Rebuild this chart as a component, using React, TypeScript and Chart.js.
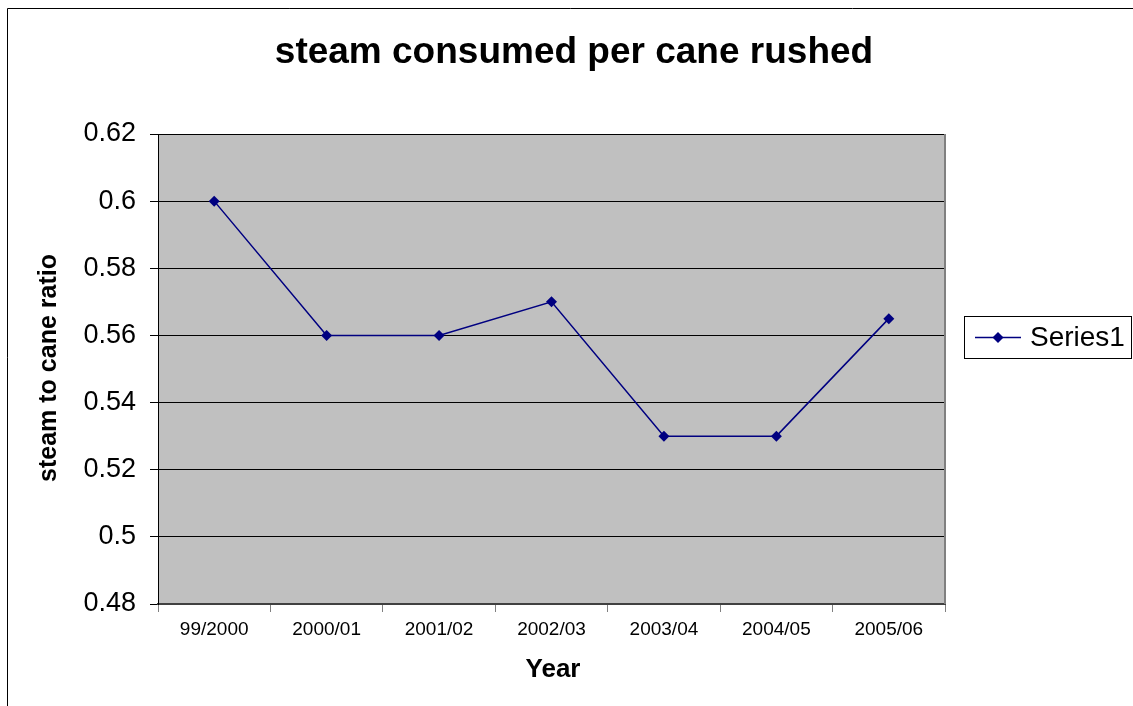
import React, { useEffect, useRef } from "react";
import { Chart, registerables } from "chart.js";

Chart.register(...registerables);

const categories = ["99/2000", "2000/01", "2001/02", "2002/03", "2003/04", "2004/05", "2005/06"];
const seriesValues = [0.6, 0.56, 0.56, 0.57, 0.53, 0.53, 0.565];
const seriesName = "Series1";
const chartTitle = "steam consumed per cane rushed";
const yAxisTitle = "steam to cane ratio";
const xAxisTitle = "Year";
const yMin = 0.48;
const yMax = 0.62;
const yStep = 0.02;

const FONT = "'Liberation Sans', Arial, Helvetica, sans-serif";
const NAVY = "#000080";

const decorPlugin = {
  id: "decor",
  beforeDraw(chart: any) {
    const { ctx, chartArea } = chart;
    ctx.save();
    ctx.fillStyle = "#ffffff";
    ctx.fillRect(0, 0, chart.width, chart.height);
    ctx.fillStyle = "#C0C0C0";
    ctx.fillRect(chartArea.left, chartArea.top, chartArea.right - chartArea.left, chartArea.bottom - chartArea.top);
    // outer frame (extends beyond the viewport)
    ctx.strokeStyle = "#000000";
    ctx.lineWidth = 1;
    ctx.beginPath();
    ctx.moveTo(7.5, chart.height + 5);
    ctx.lineTo(7.5, 8.5);
    ctx.lineTo(chart.width + 5, 8.5);
    ctx.stroke();
    ctx.restore();
  },
  afterDraw(chart: any) {
    const { ctx, chartArea } = chart;
    ctx.save();
    // plot area right border
    ctx.strokeStyle = "#808080";
    ctx.lineWidth = 2;
    ctx.beginPath();
    ctx.moveTo(chartArea.right, chartArea.top);
    ctx.lineTo(chartArea.right, chartArea.bottom);
    ctx.stroke();

    ctx.fillStyle = "#000000";
    ctx.textAlign = "center";
    ctx.textBaseline = "middle";
    ctx.font = `bold 37px ${FONT}`;
    ctx.fillText(chartTitle, 574, 53);

    ctx.font = `bold 26px ${FONT}`;
    ctx.fillText(xAxisTitle, 553, 670);

    ctx.save();
    ctx.translate(49, 368);
    ctx.rotate(-Math.PI / 2);
    ctx.font = `bold 25px ${FONT}`;
    ctx.fillText(yAxisTitle, 0, 0);
    ctx.restore();

    // legend
    ctx.strokeStyle = "#000000";
    ctx.lineWidth = 1;
    ctx.strokeRect(964.5, 316.5, 167, 42);
    ctx.strokeStyle = NAVY;
    ctx.lineWidth = 1.5;
    ctx.beginPath();
    ctx.moveTo(975, 337.5);
    ctx.lineTo(1021, 337.5);
    ctx.stroke();
    ctx.fillStyle = NAVY;
    ctx.beginPath();
    ctx.moveTo(998, 332);
    ctx.lineTo(1003.5, 337.5);
    ctx.lineTo(998, 343);
    ctx.lineTo(992.5, 337.5);
    ctx.closePath();
    ctx.fill();
    ctx.fillStyle = "#000000";
    ctx.textAlign = "left";
    ctx.font = `28px ${FONT}`;
    ctx.fillText(seriesName, 1030, 338);
    ctx.restore();
  },
};

export default function App() {
  const canvasRef = useRef<HTMLCanvasElement | null>(null);

  useEffect(() => {
    if (!canvasRef.current) return;
    const chart = new Chart(canvasRef.current, {
      type: "line",
      data: {
        labels: categories,
        datasets: [
          {
            label: seriesName,
            data: seriesValues,
            borderColor: NAVY,
            backgroundColor: NAVY,
            borderWidth: 1.5,
            pointStyle: "rectRot",
            pointRadius: 5.5,
            pointHoverRadius: 5.5,
            pointBackgroundColor: NAVY,
            pointBorderColor: NAVY,
            pointBorderWidth: 0,
            tension: 0,
          },
        ],
      },
      options: {
        responsive: false,
        animation: false,
        devicePixelRatio: 1,
        layout: { padding: { left: 0, top: 134, right: 188, bottom: 0 } },
        plugins: {
          legend: { display: false },
          title: { display: false },
          tooltip: { enabled: false },
        },
        scales: {
          x: {
            type: "category",
            offset: true,
            grid: {
              offset: true,
              drawOnChartArea: false,
              drawTicks: true,
              tickLength: 8,
              color: "#808080",
              lineWidth: 1,
            },
            border: { color: "#404040", width: 2 },
            ticks: {
              color: "#000000",
              font: { family: FONT, size: 19 },
              padding: 6,
              maxRotation: 0,
              autoSkip: false,
            },
            afterFit: (s: any) => {
              s.height = 102;
            },
          },
          y: {
            min: yMin,
            max: yMax,
            grid: {
              color: "#000000",
              lineWidth: 1,
              tickLength: 8,
            },
            border: { color: "#000000", width: 1 },
            ticks: {
              stepSize: yStep,
              color: "#000000",
              font: { family: FONT, size: 27 },
              padding: 14,
              callback: (v: any) => String(+Number(v).toFixed(2)),
            },
            afterFit: (s: any) => {
              s.width = 158;
            },
          },
        },
      },
      plugins: [decorPlugin],
    });
    return () => chart.destroy();
  }, []);

  return (
    <div style={{ position: "absolute", left: 0, top: 0, width: 1133, height: 706 }}>
      <canvas ref={canvasRef} width={1133} height={706} style={{ display: "block" }} />
    </div>
  );
}
